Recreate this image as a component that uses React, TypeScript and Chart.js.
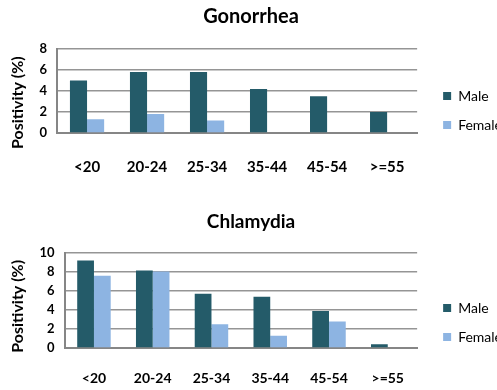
import React, { useEffect, useRef } from 'react';
import { Chart, registerables } from 'chart.js';

Chart.register(...registerables);

const categories = ['<20', '20-24', '25-34', '35-44', '45-54', '>=55'];
const seriesNames = ['Male', 'Female'];

const gonorrheaMale = [5.0, 5.8, 5.8, 4.2, 3.5, 2.0];
const gonorrheaFemale = [1.3, 1.8, 1.2, 0, 0, 0];
const gonorrheaTickMax = 8;

const chlamydiaMale = [9.2, 8.15, 5.7, 5.4, 3.9, 0.4];
const chlamydiaFemale = [7.6, 8.05, 2.5, 1.3, 2.8, 0];
const chlamydiaTickMax = 10;

const tickStep = 2;
const yTitle = 'Positivity (%)';

const FONT = 'Lato, "Open Sans", sans-serif';
const MALE_COLOR = '#245B69';
const FEMALE_COLOR = '#8DB4E2';
const GRID_COLOR = '#959595';
const AXIS_COLOR = '#868686';

type Cfg = {
  title: string;
  male: number[];
  female: number[];
  max: number;
  titleSize: number;
  titleTop: number;
  titleBottom: number;
  padBottom: number;
  xSize: number;
  xPad: number;
  legendShift: number;
  yTitleTail: string;
};

function SubChart(props: Cfg) {
  const ref = useRef<HTMLCanvasElement | null>(null);
  useEffect(() => {
    if (!ref.current) return;
    const chart = new Chart(ref.current, {
      type: 'bar',
      data: {
        labels: categories,
        datasets: [
          {
            label: seriesNames[0],
            data: props.male,
            backgroundColor: MALE_COLOR,
            yAxisID: 'y',
            categoryPercentage: 0.57,
            barPercentage: 1.0,
          },
          {
            label: seriesNames[1],
            data: props.female,
            backgroundColor: FEMALE_COLOR,
            yAxisID: 'y',
            categoryPercentage: 0.57,
            barPercentage: 1.0,
          },
        ],
      },
      options: {
        responsive: false,
        animation: false,
        layout: { padding: { left: -10, right: 2, top: 0, bottom: props.padBottom } },
        plugins: {
          title: {
            display: true,
            text: props.title,
            color: '#000',
            font: { family: FONT, size: props.titleSize, weight: 'bold' },
            padding: { top: props.titleTop, bottom: props.titleBottom },
          },
          legend: {
            position: 'right',
            labels: {
              boxWidth: 8,
              boxHeight: 8,
              padding: 15,
              color: '#000',
              font: { family: FONT, size: 14 },
            },
            title: {
              display: true,
              text: '',
              font: { size: 10 },
              padding: { top: props.legendShift - 12, bottom: 0 },
            },
          },
          tooltip: { enabled: false },
        },
        scales: {
          x: {
            grid: { display: false, drawTicks: false },
            border: { display: true, color: AXIS_COLOR, width: 2 },
            ticks: {
              color: '#000',
              font: { family: FONT, size: props.xSize, weight: 'bold' },
              padding: props.xPad,
              maxRotation: 0,
              autoSkip: false,
            },
          },
          y: {
            min: 0,
            max: props.max,
            ticks: {
              stepSize: tickStep,
              autoSkip: false,
              color: '#000',
              font: { family: FONT, size: 13, weight: 'bold' },
              padding: 10,
            },
            grid: { color: GRID_COLOR, lineWidth: 1.5, drawTicks: false },
            border: { color: AXIS_COLOR, width: 2 },
            title: {
              display: true,
              text: yTitle + props.yTitleTail,
              color: '#000',
              font: { family: FONT, size: 16, weight: 'bold' },
              padding: { top: 17.9, bottom: 2.4 },
            },
          },
          pad: {
            type: 'linear',
            position: 'right',
            grid: { display: false, drawTicks: false },
            border: { display: false },
            ticks: { display: false },
            afterFit: (s: any) => {
              s.width = 11;
            },
          },
        },
      } as any,
    });
    return () => chart.destroy();
  }, []);
  return (
    <div style={{ width: 497, height: 195, overflow: 'hidden' }}>
      <canvas ref={ref} width={514} height={195} style={{ display: 'block' }} />
    </div>
  );
}

export default function App() {
  return (
    <div
      style={{
        position: 'fixed',
        left: 0,
        top: 0,
        width: 497,
        height: 390,
        overflow: 'hidden',
        background: '#fff',
      }}
    >
      <SubChart
        title="Gonorrhea"
        male={gonorrheaMale}
        female={gonorrheaFemale}
        max={gonorrheaTickMax}
        titleSize={20}
        titleTop={5}
        titleBottom={20}
        padBottom={-6}
        xSize={15}
        xPad={25}
        legendShift={20}
        yTitleTail="      "
      />
      <SubChart
        title="Chlamydia"
        male={chlamydiaMale}
        female={chlamydiaFemale}
        max={chlamydiaTickMax}
        titleSize={19}
        titleTop={15.6}
        titleBottom={19.6}
        padBottom={-18}
        xSize={14}
        xPad={21.6}
        legendShift={42}
        yTitleTail="   "
      />
    </div>
  );
}
